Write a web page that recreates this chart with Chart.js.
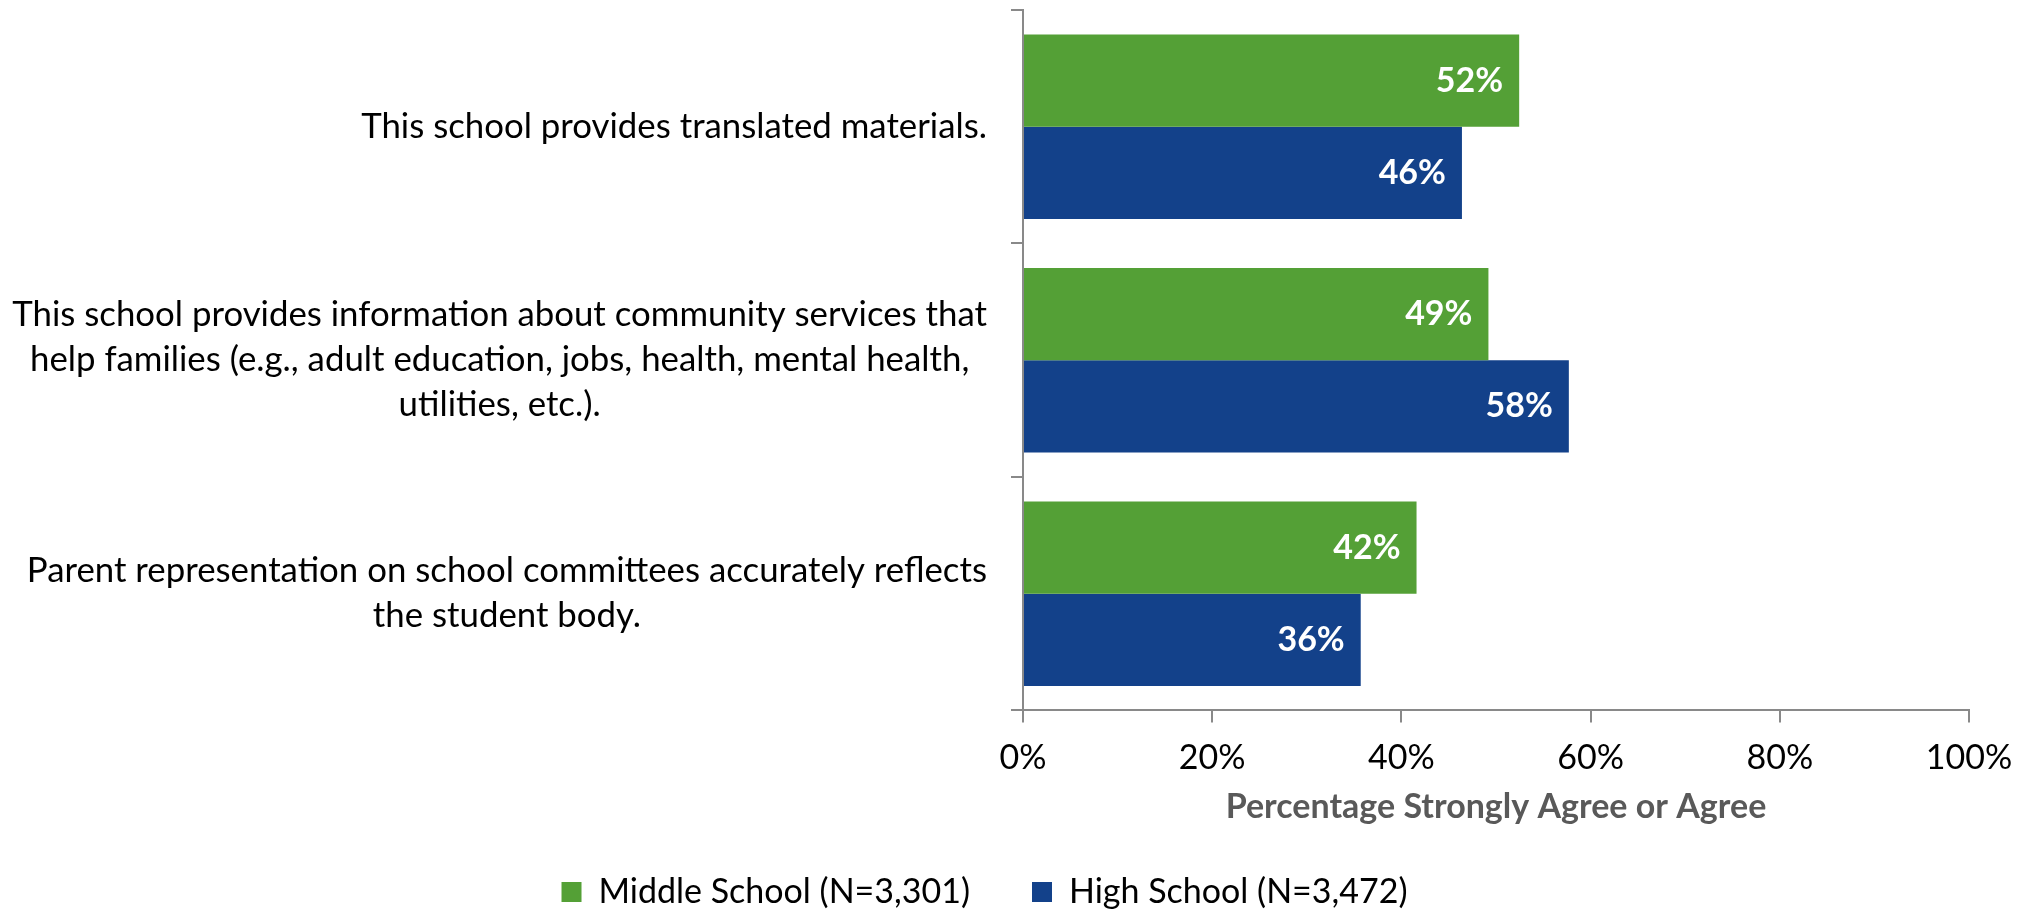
<!DOCTYPE html>
<html>
<head>
<meta charset="utf-8">
<script src="https://cdn.jsdelivr.net/npm/chart.js@4"></script>
<style>
  body { margin: 0; background: #fff; }
  #wrap { width: 2028px; height: 911px; }
</style>
</head>
<body>
<div id="wrap"><canvas id="myChart"></canvas></div>
<script>
const categories = [
    ['This school provides translated materials.'],
    ['This school provides information about community services that',
     'help families (e.g., adult education, jobs, health, mental health,',
     'utilities, etc.).'],
    ['Parent representation on school committees accurately reflects',
     'the student body.']
];
const middleSchool = [52.45, 49.2, 41.6];
const highSchool = [46.4, 57.7, 35.7];
const seriesNames = ['Middle School (N=3,301)', 'High School (N=3,472)'];
const xTickValues = [0, 20, 40, 60, 80, 100];

const FONT = 'Lato';
const axisGray = '#898989';

// category labels: block right aligned, each line centred inside its block
const catLabels = {
    id: 'catLabels',
    afterDraw(chart) {
        const c = chart.ctx;
        const y = chart.scales.y;
        const right = chart.chartArea.left - 36;
        c.save();
        c.font = '34.8px ' + FONT;
        c.fillStyle = '#000';
        c.textAlign = 'center';
        c.textBaseline = 'middle';
        categories.forEach(function(lines, i) {
            const w = Math.max.apply(null, lines.map(l => c.measureText(l).width));
            const cx = right - w / 2;
            const cy = y.getPixelForValue(i);
            const lh = 45;
            lines.forEach(function(l, j) {
                c.fillText(l, cx, cy + (j - (lines.length - 1) / 2) * lh);
            });
        });
        c.restore();
    }
};

// white value labels at the inner end of every bar
const barValues = {
    id: 'barValues',
    afterDatasetsDraw(chart) {
        const c = chart.ctx;
        c.save();
        c.font = 'bold 34px ' + FONT;
        c.fillStyle = '#fff';
        c.textAlign = 'right';
        c.textBaseline = 'middle';
        chart.data.datasets.forEach(function(ds, d) {
            chart.getDatasetMeta(d).data.forEach(function(bar, i) {
                c.fillText(Math.round(ds.data[i]) + '%', bar.x - 16, bar.y);
            });
        });
        c.restore();
    }
};

const ctx = document.getElementById('myChart').getContext('2d');
const myChart = new Chart(ctx, {
    type: 'bar',
    data: {
        labels: categories,
        datasets: [{
            label: seriesNames[0],
            data: middleSchool,
            backgroundColor: '#54A036'
        }, {
            label: seriesNames[1],
            data: highSchool,
            backgroundColor: '#13418A'
        }]
    },
    options: {
        indexAxis: 'y',
        responsive: true,
        maintainAspectRatio: false,
        animation: false,
        layout: { padding: { top: 10, right: 59, left: 0, bottom: 0 } },
        datasets: { bar: { categoryPercentage: 0.79, barPercentage: 1 } },
        scales: {
            x: {
                min: 0,
                max: 100,
                afterBuildTicks(scale) {
                    scale.ticks = xTickValues.map(v => ({ value: v }));
                },
                ticks: {
                    callback: v => v + '%',
                    color: '#000',
                    font: { family: FONT, size: 34 },
                    padding: 15,
                    maxRotation: 0
                },
                grid: { drawOnChartArea: false, tickLength: 12, color: axisGray, lineWidth: 2 },
                border: { color: axisGray, width: 2 },
                title: {
                    display: true,
                    text: 'Percentage Strongly Agree or Agree',
                    color: '#595959',
                    font: { family: FONT, size: 34, weight: 'bold' },
                    padding: { top: -7, bottom: -14 }
                }
            },
            y: {
                afterFit(scale) { scale.width = 1023; },
                ticks: { display: false },
                grid: { drawOnChartArea: false, offset: true, tickLength: 12, color: axisGray, lineWidth: 2 },
                border: { color: axisGray, width: 2 }
            }
        },
        plugins: {
            legend: {
                position: 'bottom',
                maxHeight: 98,
                labels: {
                    boxWidth: 20,
                    boxHeight: 20,
                    padding: 62,
                    color: '#000',
                    font: { family: FONT, size: 34 }
                }
            },
            tooltip: { enabled: false }
        }
    },
    plugins: [catLabels, barValues]
});
</script>
</body>
</html>
